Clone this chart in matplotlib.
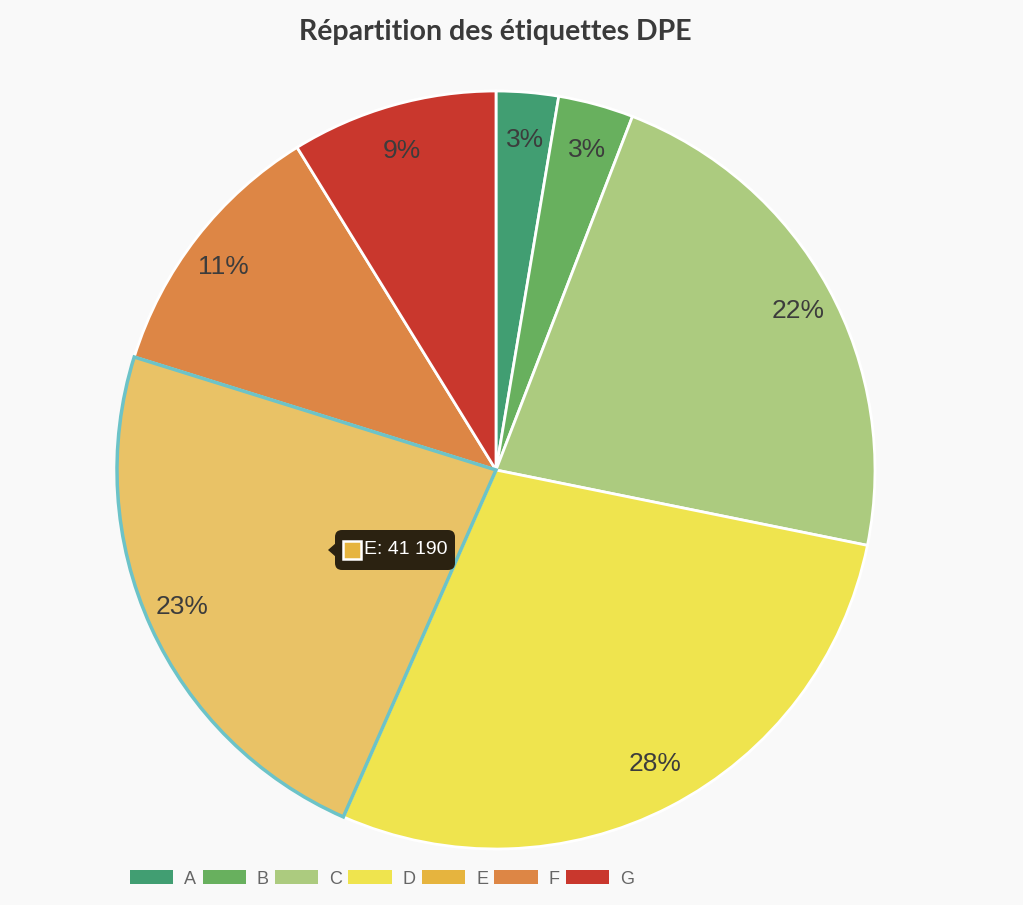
import numpy as np
import matplotlib.pyplot as plt
from matplotlib.patches import Patch, Rectangle, Polygon, FancyBboxPatch

labels = ['A', 'B', 'C', 'D', 'E', 'F', 'G']
counts = [4700, 5700, 39600, 50400, 41190, 20200, 15600]
colors = ['#419E72', '#68B05E', '#ACCB7F', '#EFE44E', '#E6B43E', '#DD8645', '#C9372D']
hover_label = 'E'
hover_color = '#E9C266'

W, H = 1023, 905
cx, cy, R = 496, H - 470, 379
fig = plt.figure(figsize=(W / 100, H / 100), dpi=100, facecolor='#F9F9F9')
ax = fig.add_axes([0, 0, 1, 1])
ax.set_facecolor('#F9F9F9')

wedges, texts, autotexts = ax.pie(
    counts, colors=colors, startangle=90, counterclock=False,
    center=(cx, cy), radius=R, frame=True,
    autopct=lambda p: f'{p:.0f}%', pctdistance=0.9,
    wedgeprops=dict(edgecolor='white', linewidth=2),
    textprops=dict(fontsize=19, color='#3C3C3C', family='Liberation Sans'))
ax.set_xlim(0, W)
ax.set_ylim(0, H)
ax.axis('off')
# labels sit a bit lower/inward vertically than matplotlib's default
for w, t in zip(wedges, autotexts):
    mid = np.deg2rad((w.theta1 + w.theta2) / 2)
    t.set_position((cx + 0.91 * R * np.cos(mid), cy + 0.875 * R * np.sin(mid)))

# hovered slice
hi = labels.index(hover_label)
wedges[hi].set_facecolor(hover_color)
wedges[hi].set_edgecolor('#6CC3C8')
wedges[hi].set_linewidth(2.5)
wedges[hi].set_zorder(3)
autotexts[hi].set_zorder(4)

# tooltip
bx0, bx1, by0, by1 = 335, 455, H - 570, H - 530
ym = (by0 + by1) / 2
ax.add_patch(FancyBboxPatch((bx0, by0), bx1 - bx0, by1 - by0,
                            boxstyle='round,pad=0,rounding_size=7',
                            facecolor='#2B2211', edgecolor='none', zorder=5))
ax.add_patch(Polygon([[bx0 - 7, ym], [bx0 + 1, ym + 7], [bx0 + 1, ym - 7]],
                     closed=True, facecolor='#2B2211', edgecolor='none', zorder=5))
ax.add_patch(Rectangle((bx0 + 8, ym - 9), 18, 18, facecolor=colors[hi],
                       edgecolor='white', linewidth=1.8, zorder=7))
ax.text(bx0 + 29, ym, f'{hover_label}: {counts[hi]:,}'.replace(',', ' '),
        fontsize=14, color='white', family='Liberation Sans', va='center', ha='left', zorder=6)

# title
ax.text(495, H - 32, 'Répartition des étiquettes DPE', ha='center', va='center',
        fontsize=20.5, fontweight='bold', color='#3A3A3A', family='Lato')

# legend
handles = [Patch(facecolor=c, edgecolor='none', label=l) for c, l in zip(colors, labels)]
leg = ax.legend(handles=handles, loc='center', bbox_to_anchor=(382 / W, 1 - 879 / H),
                ncol=7, frameon=False, handlelength=2.4, handleheight=0.8,
                handletextpad=0.6, columnspacing=0.35,
                prop=dict(family='Liberation Sans', size=13))
for t in leg.get_texts():
    t.set_color('#666666')

fig.savefig('out.png', dpi=100, facecolor=fig.get_facecolor())
